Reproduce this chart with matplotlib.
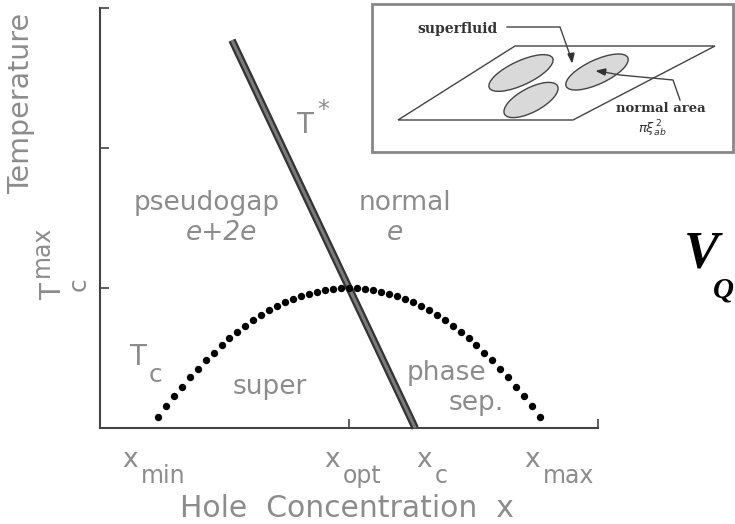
import matplotlib
matplotlib.use("Agg")
import matplotlib.pyplot as plt
from matplotlib.transforms import Affine2D
from matplotlib.patches import Ellipse, Rectangle, Polygon
from matplotlib.lines import Line2D

# Tc dome (hole concentration in axis units, temperature in units of Tc^max)
dome_x = [1.16, 1.32, 1.48, 1.64, 1.80, 1.96, 2.12, 2.28, 2.44, 2.60,
          2.76, 2.92, 3.08, 3.24, 3.40, 3.56, 3.72, 3.88, 4.04, 4.20,
          4.36, 4.52, 4.68, 4.84, 5.00, 5.16, 5.32, 5.48, 5.64, 5.80,
          5.96, 6.12, 6.28, 6.44, 6.60, 6.76, 6.92, 7.08, 7.24, 7.40,
          7.56, 7.72, 7.88, 8.04, 8.20, 8.36, 8.52, 8.68, 8.84]
dome_t = [0.080, 0.155, 0.227, 0.296, 0.361, 0.423, 0.483, 0.538, 0.591, 0.641,
          0.687, 0.730, 0.770, 0.807, 0.840, 0.871, 0.898, 0.922, 0.943, 0.960,
          0.974, 0.986, 0.994, 0.998, 1.000, 0.998, 0.994, 0.986, 0.974, 0.960,
          0.943, 0.922, 0.898, 0.871, 0.840, 0.807, 0.770, 0.730, 0.687, 0.641,
          0.591, 0.538, 0.483, 0.423, 0.361, 0.296, 0.227, 0.155, 0.080]

# T* crossover line
tstar_x = [2.65, 6.33]
tstar_t = [2.77, 0.0]

# special concentrations
x_opt = 5.0
x_end = 10.0
y_ticks = [1, 2, 3]

W, H = 735, 524
fig = plt.figure(figsize=(W / 100, H / 100), dpi=100)
# pixel coordinates measured from the top-left corner
px = Affine2D().scale(1 / W, -1 / H).translate(0, 1) + fig.transFigure

ax = fig.add_axes([100 / W, (H - 428) / H, 498 / W, 420 / H])
ax.set_xlim(0, x_end)
ax.set_ylim(0, 3)
for s in ("top", "right"):
    ax.spines[s].set_visible(False)
for s in ("left", "bottom"):
    ax.spines[s].set_color("#444444")
    ax.spines[s].set_linewidth(1.5)
ax.set_xticks([x_opt, x_end])
ax.set_yticks(y_ticks)
ax.set_xticklabels([])
ax.set_yticklabels([])
ax.tick_params(direction="in", length=6.5, width=1.2, color="#444444")

ax.plot(tstar_x, tstar_t, color="#333333", lw=5.4, solid_capstyle="butt",
        clip_on=False, zorder=3)
ax.plot(tstar_x, tstar_t, color="#7a7a7a", lw=2.2, solid_capstyle="butt",
        clip_on=False, zorder=3)
ax.plot(dome_x, dome_t, "o", color="black", ms=5.3, mec="none",
        clip_on=False, zorder=4)

gray = "#8c8c8c"
fs = 19


def t(x, y, s, size=fs, **kw):
    kw.setdefault("color", gray)
    kw.setdefault("family", "DejaVu Sans")
    fig.text(x, y, s, transform=px, fontsize=size, **kw)


# region labels
t(207, 210, "pseudogap", ha="center", va="baseline")
t(221, 240, "e+2e", ha="center", va="baseline", style="italic")
t(405, 210, "normal", ha="center", va="baseline")
t(395, 240, "e", ha="center", va="baseline", style="italic")
t(446, 380, "phase", ha="center", va="baseline")
t(476, 410, "sep.", ha="center", va="baseline")
t(270, 394, "super", ha="center", va="baseline")

# curve labels
t(296, 133, "T", size=20, ha="left", va="baseline")
t(317, 117, "*", size=17, ha="left", va="baseline")
t(129, 365, "T", size=20, ha="left", va="baseline")
t(149, 382, "c", size=18, ha="left", va="baseline")

# x-axis labels
for x0, sub in [(122, "min"), (324, "opt"), (416, "c"), (524, "max")]:
    t(x0, 467, "x", ha="left", va="baseline")
    t(x0 + 19, 483, sub, size=17, ha="left", va="baseline")
t(347, 517, "Hole  Concentration  x", size=21.5, ha="center", va="baseline")

# y-axis labels
t(21, 103, "Temperature", size=20.5, rotation=90, ha="center", va="center")
t(53, 292, "T", size=20, rotation=90, ha="center", va="center")
t(79, 284, "c", size=18, rotation=90, ha="center", va="center")
t(42, 251, "max", size=17, rotation=90, ha="center", va="center")

# inset: sketch of normal areas in the superfluid plane
box = Rectangle((372, 4), 361, 148, transform=px, facecolor="white",
                edgecolor="#888888", lw=2.0, zorder=5)
fig.add_artist(box)
plane = Polygon([(398, 120), (573, 120), (715, 46), (515, 46)], closed=True,
                transform=px, facecolor="none", edgecolor="#444444", lw=1.0,
                zorder=6)
fig.add_artist(plane)
for (cx, cy, w, h, a) in [(521, 73, 70, 24, -25), (531, 100, 60, 24, -28),
                          (597, 72, 68, 24, -25)]:
    fig.add_artist(Ellipse((cx, cy), w, h, angle=a, transform=px,
                           facecolor="#d9d9d9", edgecolor="#444444", lw=1.0,
                           zorder=7))
fig.add_artist(Line2D([507, 560, 571], [27, 27, 58], transform=px,
                      color="#444444", lw=1.0, zorder=8))
fig.add_artist(Polygon([(568, 54), (574, 53), (572, 62)], closed=True,
                       transform=px, color="#333333", zorder=8))
fig.add_artist(Line2D([604, 620, 673, 680], [72, 75, 80, 100], transform=px,
                      color="#444444", lw=1.0, zorder=8))
fig.add_artist(Polygon([(597, 71), (606, 69), (605, 75)], closed=True,
                       transform=px, color="#333333", zorder=8))

serif = dict(family="DejaVu Serif", weight="bold", color="#333333", zorder=9)
t(417, 33, "superfluid", size=10, ha="left", va="baseline", **serif)
t(616, 112, "normal area", size=9.5, ha="left", va="baseline", **serif)
t(638, 133, r"$\pi\xi^{\,2}_{ab}$", size=9.5, ha="left", va="baseline",
  **serif)

# V_Q at the right edge
t(684, 268, "V", size=38, ha="left", va="baseline", color="black",
  family="Liberation Serif", weight="bold", style="italic")
t(713, 298, "Q", size=21, ha="left", va="baseline", color="black",
  family="Liberation Serif", weight="bold", style="italic")

fig.savefig("out.png", dpi=100)
